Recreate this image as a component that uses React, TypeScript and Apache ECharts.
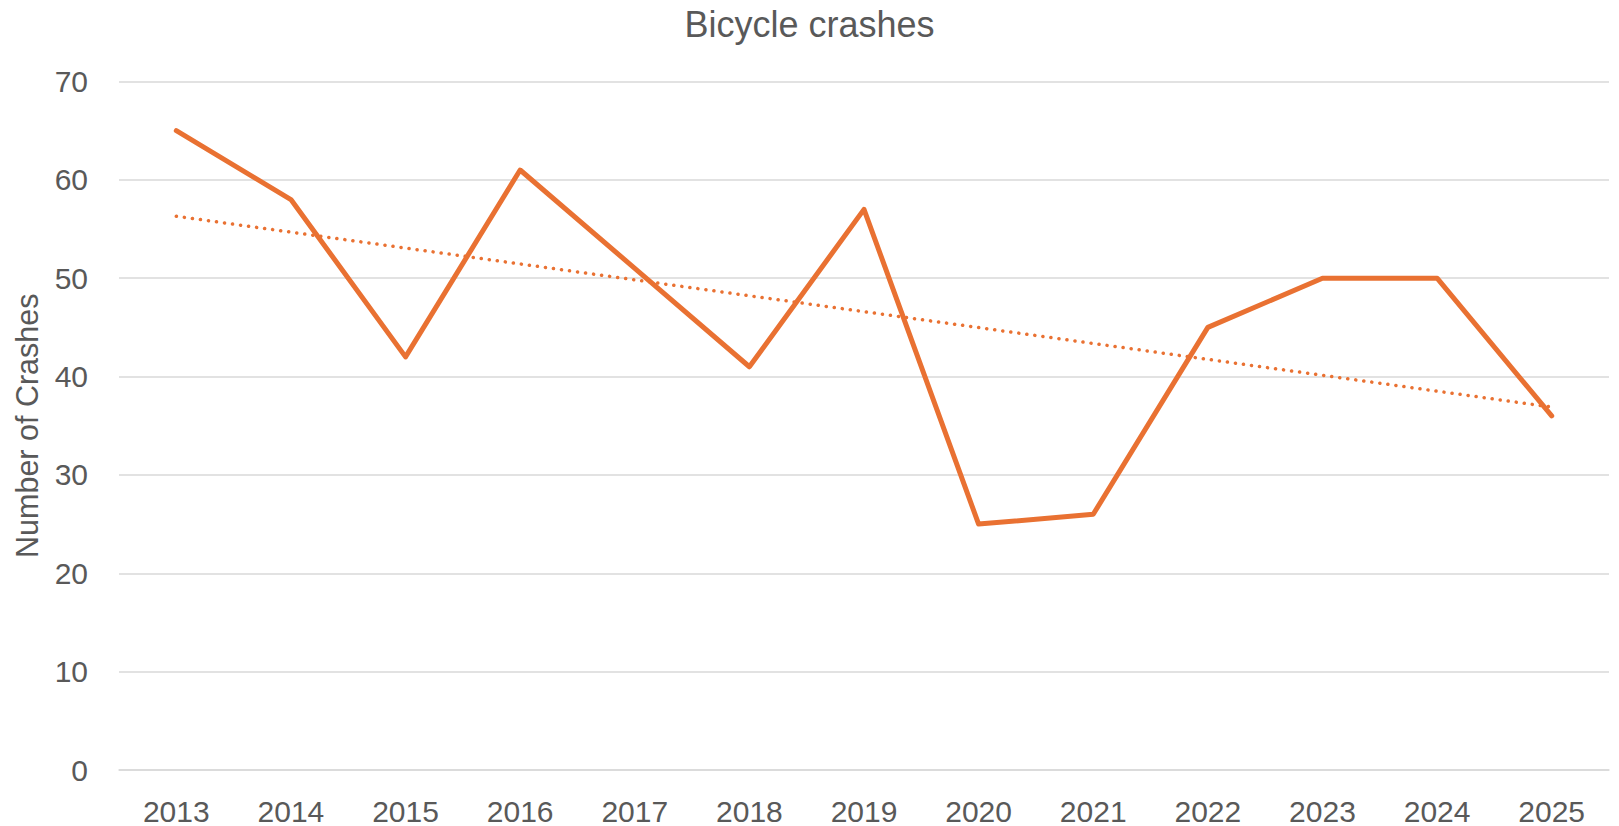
import React, { useEffect, useRef } from "react";
import * as echarts from "echarts";

const years = ["2013", "2014", "2015", "2016", "2017", "2018", "2019", "2020", "2021", "2022", "2023", "2024", "2025"];
const crashes = [65, 58, 42, 61, 51, 41, 57, 25, 26, 45, 50, 50, 36];
// Linear trendline endpoints
const trendStart = 56.3;
const trendEnd = 36.9;
const yTicks = { min: 0, max: 70, interval: 10 };

const ORANGE = "#E97132";
const TEXT = "#595959";
const GRID = "#D9D9D9";
const FONT = "'Liberation Sans', Arial, sans-serif";

export default function App() {
  const ref = useRef<HTMLDivElement>(null);
  useEffect(() => {
    document.body.style.margin = "0";
    if (!ref.current) return;
    const chart = echarts.init(ref.current, undefined, { renderer: "svg" });
    const trend = years.map((_, i) => (i === 0 ? trendStart : i === years.length - 1 ? trendEnd : null));
    chart.setOption({
      animation: false,
      backgroundColor: "#ffffff",
      textStyle: { fontFamily: FONT },
      title: {
        text: "Bicycle crashes",
        left: "center",
        top: 1,
        textStyle: { fontFamily: FONT, fontSize: 36, fontWeight: "normal", color: TEXT },
      },
      grid: { left: 119, right: 10, top: 81.5, bottom: 55.3, containLabel: false },
      xAxis: {
        type: "category",
        data: years,
        boundaryGap: true,
        axisLine: { show: true, lineStyle: { color: GRID, width: 1.5 } },
        axisTick: { show: false },
        axisLabel: { color: TEXT, fontSize: 30, margin: 26, fontFamily: FONT },
        splitLine: { show: false },
      },
      yAxis: {
        type: "value",
        min: yTicks.min,
        max: yTicks.max,
        interval: yTicks.interval,
        name: "Number of Crashes",
        nameLocation: "middle",
        nameGap: 77,
        nameTextStyle: { color: TEXT, fontSize: 30.5, fontFamily: FONT },
        axisLine: { show: false },
        axisTick: { show: false },
        axisLabel: { color: TEXT, fontSize: 30, margin: 31, fontFamily: FONT },
        splitLine: { show: true, lineStyle: { color: GRID, width: 1.5 } },
      },
      series: [
        {
          type: "line",
          name: "Crashes",
          data: crashes,
          symbol: "none",
          lineStyle: { color: ORANGE, width: 5, cap: "round", join: "round" },
          z: 3,
        },
        {
          type: "line",
          name: "Trend",
          data: trend,
          connectNulls: true,
          symbol: "none",
          lineStyle: { color: ORANGE, width: 3.5, type: [0.1, 8], cap: "round" },
          z: 2,
        },
      ],
    });
    return () => chart.dispose();
  }, []);
  return <div ref={ref} style={{ width: 1619, height: 826 }} />;
}
